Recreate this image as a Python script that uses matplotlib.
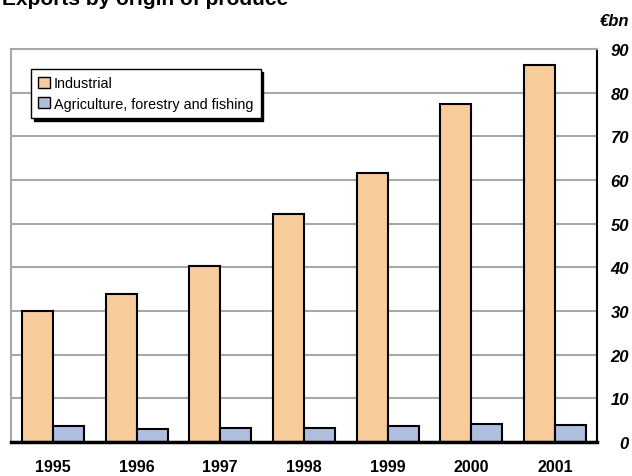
import matplotlib.pyplot as plt
import numpy as np

plt.rcParams['font.family'] = ['Liberation Sans', 'DejaVu Sans']

years = ['1995', '1996', '1997', '1998', '1999', '2000', '2001']
industrial = [30.0, 34.0, 40.3, 52.2, 61.5, 77.5, 86.4]
agriculture = [3.7, 3.0, 3.1, 3.3, 3.7, 4.2, 3.8]
y_ticks = [0, 10, 20, 30, 40, 50, 60, 70, 80, 90]

fig = plt.figure(figsize=(6.32, 4.77), dpi=100)
ax = fig.add_axes([11 / 632, 1 - 443 / 477, 586 / 632, 393 / 477])

x = np.arange(len(years))
w = 0.37
ax.bar(x - w / 2, industrial, w, color='#f8cb9b', edgecolor='black', linewidth=1.5,
       label='Industrial', zorder=3)
ax.bar(x + w / 2, agriculture, w, color='#afbedf', edgecolor='black', linewidth=1.5,
       label='Agriculture, forestry and fishing', zorder=3)

ax.set_xlim(-0.5, len(years) - 0.5)
ax.set_ylim(0, 90)
ax.set_xticks(x)
ax.set_xticklabels(years, fontsize=11.5, fontweight='bold')
ax.tick_params(axis='x', length=0, pad=12)

ax.yaxis.tick_right()
ax.set_yticks(y_ticks)
ax.set_yticklabels([str(v) for v in y_ticks], fontsize=12, fontweight='bold', style='italic')
ax.tick_params(axis='y', length=0, pad=23)
for lab in ax.get_yticklabels():
    lab.set_horizontalalignment('right')

ax.grid(axis='y', color='#a8a8a8', linewidth=1.5, zorder=0)
ax.spines['left'].set_color('#a8a8a8')
ax.spines['left'].set_linewidth(1.5)
ax.spines['top'].set_color('#a8a8a8')
ax.spines['top'].set_linewidth(1.5)
ax.spines['right'].set_color('black')
ax.spines['right'].set_linewidth(1.5)
ax.spines['bottom'].set_color('black')
ax.spines['bottom'].set_linewidth(2.5)
ax.spines['bottom'].set_zorder(4)

leg = ax.legend(loc='upper left', bbox_to_anchor=(0.034, 0.949), borderaxespad=0,
                fontsize=10.4, fancybox=False, edgecolor='black', framealpha=1,
                handlelength=0.8, handleheight=0.8, handletextpad=0.3,
                labelspacing=0.46, borderpad=0.5,
                shadow={'color': 'black', 'alpha': 1})
leg.get_frame().set_linewidth(1)
for h in leg.legend_handles:
    h.set_linewidth(1)

fig.text(629 / 632, 1 - 22 / 477, '€bn', fontsize=12, fontweight='bold', style='italic',
         ha='right', va='center')
fig.text(2 / 632, 1 - 5 / 477, 'Exports by origin of produce', fontsize=15,
         fontweight='bold', ha='left', va='baseline')

fig.savefig('out.png', dpi=100)
